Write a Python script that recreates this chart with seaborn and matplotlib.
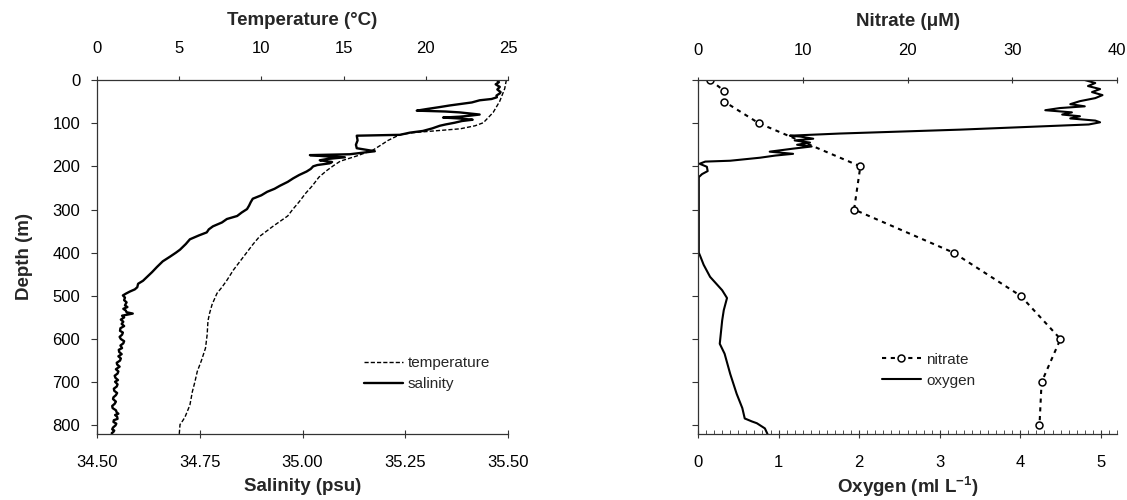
import numpy as np
import pandas as pd
import seaborn as sns
import matplotlib.pyplot as plt
from matplotlib.ticker import MultipleLocator

# ---- left panel: CTD salinity (psu) and temperature (degC) vs depth (m)
sal_depth = [0, 5, 10, 16, 22, 28, 31, 36, 40, 44, 47, 52, 56, 59, 63, 67, 71, 73, 75, 78,
             80, 83, 85, 87, 89, 92, 95, 99, 103, 106, 112, 118, 122, 127, 129, 140, 150, 158,
             165, 172, 174, 177, 179, 183, 186, 190, 193, 197, 200, 206, 212, 220, 228, 236,
             245, 252, 259, 267, 275, 283, 291, 299, 307, 315, 322, 330, 339, 346, 353, 360,
             369, 380, 393, 400, 409, 420, 433, 445, 456, 465, 472,
             480, 485, 490, 495, 499, 504, 510, 515, 522, 526, 530, 534, 538, 541, 544, 546,
             550, 555, 560, 565, 570, 575, 581, 585, 590, 595, 600, 605, 610, 615, 621, 625,
             630, 635, 640, 645, 650, 655, 659, 664, 670, 675, 680, 685, 690, 695, 699, 705,
             710, 715, 720, 725, 730, 735, 739, 745, 750, 755, 760, 765, 770, 773, 776, 780,
             785, 788, 792, 796, 800, 805, 809, 812, 815, 818, 822]
salinity = [35.473, 35.478, 35.470, 35.480, 35.474, 35.482, 35.480, 35.472, 35.473, 35.460,
            35.431, 35.412, 35.380, 35.358, 35.332, 35.304, 35.278, 35.348, 35.382, 35.412,
            35.431, 35.404, 35.382, 35.342, 35.380, 35.414, 35.388, 35.370, 35.348, 35.334,
            35.316, 35.293, 35.261, 35.237, 35.132, 35.134, 35.130, 35.132, 35.176, 35.115,
            35.018, 35.060, 35.103, 35.060, 35.042, 35.072, 35.066, 35.036, 35.026, 35.020,
            35.010, 34.992, 34.977, 34.964, 34.945, 34.932, 34.914, 34.900, 34.879, 34.874,
            34.870, 34.865, 34.852, 34.841, 34.816, 34.804, 34.782, 34.772, 34.767, 34.748,
            34.726, 34.716, 34.702, 34.692, 34.678, 34.660, 34.646, 34.634, 34.622, 34.612,
            34.600,
            34.598, 34.592, 34.580, 34.570, 34.563, 34.568, 34.566, 34.572, 34.568, 34.574,
            34.564, 34.570, 34.572, 34.587, 34.572, 34.561, 34.566, 34.558, 34.564, 34.560,
            34.566, 34.557, 34.556, 34.563, 34.561, 34.555, 34.558, 34.566, 34.564, 34.557,
            34.561, 34.553, 34.554, 34.560, 34.552, 34.558, 34.556, 34.548, 34.549, 34.555,
            34.546, 34.552, 34.550, 34.543, 34.545, 34.551, 34.544, 34.550, 34.548, 34.541,
            34.542, 34.549, 34.546, 34.540, 34.539, 34.546, 34.543, 34.537, 34.538, 34.546,
            34.548, 34.552, 34.544, 34.549, 34.550, 34.541, 34.540, 34.547, 34.545, 34.539,
            34.537, 34.542, 34.540, 34.536, 34.537]

temp_depth = [0, 20, 49, 75, 99, 106, 113, 118, 122, 127, 140, 150, 162, 176, 188, 198, 209,
              225, 245, 262, 282, 300, 315, 339, 362, 380, 400, 420, 440, 464, 480, 494, 520,
              540, 558, 590, 621, 650, 675, 700, 722, 753, 781, 790, 798, 822]
temperature = [24.9, 24.8, 24.5, 24.1, 23.5, 23.0, 22.1, 20.5, 19.2, 18.4, 17.7, 17.3, 16.8,
               15.8, 14.8, 14.4, 14.0, 13.5, 13.1, 12.7, 12.3, 11.9, 11.6, 10.7, 9.9, 9.5,
               9.1, 8.7, 8.3, 7.9, 7.6, 7.3, 7.0, 6.85, 6.75, 6.7, 6.6, 6.35, 6.1, 5.95, 5.8,
               5.65, 5.35, 5.2, 5.05, 5.0]

# ---- right panel: oxygen (ml/L) and bottle nitrate (uM) vs depth (m)
oxy_depth = [0, 7, 14, 21, 28, 35, 42, 49, 56, 61, 65, 70, 75, 80, 84, 89, 94, 98, 103, 115,
             124, 129, 131, 136, 140, 145, 150, 154, 159, 166, 171, 175, 180, 187, 189, 194,
             201, 211, 218, 225, 300, 400, 409, 428, 456, 487, 505, 533, 557, 611, 634, 681,
             727, 760, 784, 791, 795, 807, 819, 825]
oxygen = [4.80, 4.93, 4.84, 4.99, 4.89, 5.02, 4.93, 4.74, 4.62, 4.80, 4.49, 4.31, 4.64, 4.52,
          4.74, 4.62, 4.93, 4.99, 4.85, 3.25, 1.76, 1.14, 1.27, 1.43, 1.20, 1.39, 1.23, 1.41,
          1.18, 0.89, 1.18, 0.96, 0.77, 0.40, 0.09, 0.02, 0.11, 0.12, 0.05, 0.01, 0.01, 0.01,
          0.03, 0.07, 0.15, 0.30, 0.36, 0.32, 0.30, 0.27, 0.33, 0.40, 0.48, 0.55, 0.58, 0.67,
          0.73, 0.83, 0.86, 0.87]

nit_depth = [0, 25, 50, 100, 200, 300, 400, 500, 600, 700, 800]
nitrate = [1.15, 2.5, 2.5, 5.8, 15.5, 14.9, 24.4, 30.8, 34.6, 32.8, 32.6]

sns.set_style("ticks")
plt.rcParams["font.family"] = ["Liberation Sans", "DejaVu Sans"]
plt.rcParams["mathtext.fontset"] = "custom"
plt.rcParams["mathtext.rm"] = "Liberation Sans"
plt.rcParams["mathtext.bf"] = "Liberation Sans:bold"
plt.rcParams["axes.edgecolor"] = "#333333"
plt.rcParams["axes.linewidth"] = 0.9
plt.rcParams["xtick.color"] = "#333333"
plt.rcParams["ytick.color"] = "#333333"
plt.rcParams["xtick.labelcolor"] = "black"
plt.rcParams["ytick.labelcolor"] = "black"

W, H = 1127, 500
fig = plt.figure(figsize=(W / 100, H / 100), dpi=100)
bottom, top = 434, 80
ax1 = fig.add_axes([97 / W, 1 - bottom / H, 411 / W, (bottom - top) / H])
ax2 = fig.add_axes([698 / W, 1 - bottom / H, 419 / W, (bottom - top) / H])

sal_df = pd.DataFrame({"depth": sal_depth, "salinity": salinity})
temp_df = pd.DataFrame({"depth": temp_depth, "temperature": temperature})
oxy_df = pd.DataFrame({"depth": oxy_depth, "oxygen": oxygen})
nit_df = pd.DataFrame({"depth": nit_depth, "nitrate": nitrate})

tick_fs = 12
title_fs = 13.5

# left panel
ax1t = ax1.twiny()
sns.lineplot(data=temp_df, x="temperature", y="depth", sort=False, estimator=None,
             color="k", lw=1.0, ax=ax1t, legend=False)
ax1t.lines[0].set_dashes((3, 1.5))
sns.lineplot(data=sal_df, x="salinity", y="depth", sort=False, estimator=None,
             color="k", lw=1.7, ax=ax1, legend=False)

ax1.set_xlim(34.5, 35.5)
ax1.set_xticks([34.5, 34.75, 35.0, 35.25, 35.5])
ax1.set_xticklabels(["34.50", "34.75", "35.00", "35.25", "35.50"])
ax1t.set_xlim(0, 25)
ax1t.xaxis.set_major_locator(MultipleLocator(5))
ax1.set_ylim(820, 0)
ax1.yaxis.set_major_locator(MultipleLocator(100))

ax1.set_xlabel("Salinity (psu)", fontsize=title_fs, fontweight="bold", labelpad=6)
ax1.set_ylabel("Depth (m)", fontsize=title_fs, fontweight="bold", labelpad=14)
ax1t.set_xlabel("Temperature (°C)", fontsize=title_fs, fontweight="bold", labelpad=12)
ax1t.set_ylabel("")

ax1.tick_params(axis="x", direction="inout", length=6, pad=12, labelsize=tick_fs)
ax1.tick_params(axis="y", direction="out", length=4, pad=8, labelsize=tick_fs)
ax1t.tick_params(axis="x", direction="out", length=3, pad=14, labelsize=tick_fs)

ax1.spines["right"].set_visible(False)
ax1.spines["top"].set_visible(False)
ax1t.spines["right"].set_visible(False)
ax1t.spines["bottom"].set_visible(False)
ax1t.spines["left"].set_visible(False)

h_temp = ax1t.lines[0]
h_sal = ax1.lines[0]
ax1.legend([h_temp, h_sal], ["temperature", "salinity"], loc="center left",
           bbox_to_anchor=(0.63, 0.17), frameon=False, fontsize=11,
           handlelength=2.6, handletextpad=0.3, borderpad=0, labelspacing=0.45)

# right panel
ax2t = ax2.twiny()
sns.lineplot(data=nit_df, x="nitrate", y="depth", sort=False, estimator=None,
             color="k", lw=1.5, ax=ax2t, legend=False, marker="o", markersize=5,
             markerfacecolor="white", markeredgecolor="k", markeredgewidth=1.1)
ax2t.lines[0].set_dashes((2, 2.2))
sns.lineplot(data=oxy_df, x="oxygen", y="depth", sort=False, estimator=None,
             color="k", lw=1.5, ax=ax2, legend=False)

ax2.set_xlim(0, 5.2)
ax2.xaxis.set_major_locator(MultipleLocator(1))
ax2.xaxis.set_minor_locator(MultipleLocator(0.1))
ax2t.set_xlim(0, 40)
ax2t.xaxis.set_major_locator(MultipleLocator(10))
ax2.set_ylim(820, 0)
ax2.yaxis.set_major_locator(MultipleLocator(100))

ax2.set_xlabel(r"Oxygen (ml L$^{\mathbf{-1}}$)", fontsize=title_fs, fontweight="bold", labelpad=3)
ax2.set_ylabel("")
ax2t.set_xlabel("Nitrate (μM)", fontsize=title_fs, fontweight="bold", labelpad=12)
ax2t.set_ylabel("")

ax2.tick_params(axis="x", which="major", direction="inout", length=6, pad=12, labelsize=tick_fs)
ax2.tick_params(axis="x", which="minor", direction="in", length=3)
ax2.tick_params(axis="y", direction="out", length=4, labelleft=False)
ax2t.tick_params(axis="x", direction="inout", length=4, pad=14, labelsize=tick_fs)

ax2.spines["right"].set_visible(False)
ax2.spines["top"].set_visible(False)
ax2t.spines["right"].set_visible(False)
ax2t.spines["bottom"].set_visible(False)
ax2t.spines["left"].set_visible(False)

h_nit = ax2t.lines[0]
h_oxy = ax2.lines[0]
ax2.legend([h_nit, h_oxy], ["nitrate", "oxygen"], loc="center left",
           bbox_to_anchor=(0.42, 0.18), frameon=False, fontsize=11,
           handlelength=2.6, handletextpad=0.3, borderpad=0, labelspacing=0.45)

fig.savefig("out.png", dpi=100)
